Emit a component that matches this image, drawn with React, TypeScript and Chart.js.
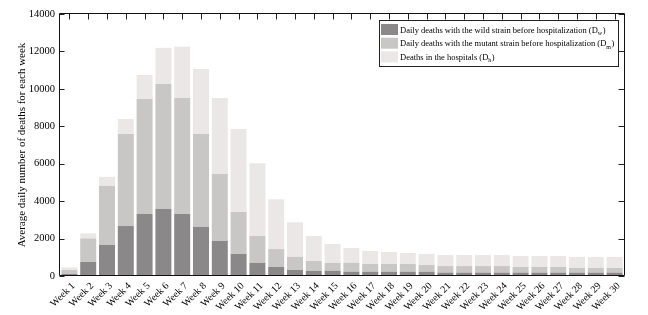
import { useEffect, useRef } from 'react';
import { Chart, registerables } from 'chart.js';

Chart.register(...registerables);

const weeks: string[] = Array.from({ length: 30 }, (_, i) => `Week ${i + 1}`);

// Segment sizes of each stacked bar (average daily deaths)
const wildDeaths: number[] = [110, 750, 1660, 2670, 3310, 3580, 3310, 2630, 1870, 1180, 700, 480, 320, 270, 280, 230, 230, 230, 230, 230, 180, 180, 180, 180, 180, 180, 180, 180, 180, 180];
const mutantDeaths: number[] = [210, 1260, 3160, 4920, 6150, 6680, 6200, 4960, 3580, 2240, 1440, 960, 700, 530, 420, 480, 410, 410, 410, 360, 350, 350, 350, 350, 300, 300, 300, 250, 250, 250];
const hospitalDeaths: number[] = [140, 270, 480, 800, 1280, 1930, 2740, 3470, 4060, 4430, 3880, 2660, 1850, 1340, 1010, 790, 700, 640, 590, 590, 590, 590, 590, 590, 590, 590, 590, 590, 590, 590];

const yTicks: number[] = [0, 2000, 4000, 6000, 8000, 10000, 12000, 14000];

const COLORS = ['#8a8889', '#c9c6c6', '#ebe7e7'];
const legendItems = [
  { text: 'Daily deaths with the wild strain before hospitalization (D', sub: 'w', color: COLORS[0] },
  { text: 'Daily deaths with the mutant strain before hospitalization (D', sub: 'm', color: COLORS[1] },
  { text: 'Deaths in the hospitals (D', sub: 'h', color: COLORS[2] },
];

const SERIF = '"Liberation Serif", "Times New Roman", serif';

const framePlugin = {
  id: 'frame',
  afterDatasetsDraw(chart: any) {
    const { ctx, chartArea, scales } = chart;
    const L = Math.round(chartArea.left) - 0.5;
    const R = Math.round(chartArea.right) + 0.5;
    const T = Math.round(chartArea.top) - 0.5;
    const B = Math.round(chartArea.bottom) - 0.5;
    ctx.save();
    ctx.lineWidth = 1;
    ctx.strokeStyle = '#222';
    ctx.beginPath();
    for (let i = 0; i < weeks.length; i++) {
      const x = Math.round(scales.x.getPixelForValue(i)) + 0.5;
      ctx.moveTo(x, T);
      ctx.lineTo(x, T + 6);
    }
    for (const v of yTicks) {
      const y = Math.round(scales.y.getPixelForValue(v)) + 0.5;
      ctx.moveTo(L, y);
      ctx.lineTo(L + 5, y);
      ctx.moveTo(R, y);
      ctx.lineTo(R - 6, y);
    }
    ctx.stroke();
    ctx.strokeStyle = '#111';
    ctx.beginPath();
    ctx.moveTo(L, T);
    ctx.lineTo(R, T);
    ctx.lineTo(R, B);
    ctx.lineTo(L, B);
    ctx.closePath();
    ctx.stroke();
    ctx.restore();
  },
  afterDraw(chart: any) {
    const { ctx, chartArea } = chart;
    const bw = 239, bh = 46;
    const bx = Math.round(chartArea.right) - 6 - bw + 0.5;
    const by = Math.round(chartArea.top) + 6 + 0.5;
    ctx.save();
    ctx.fillStyle = '#fff';
    ctx.fillRect(bx, by, bw, bh);
    ctx.strokeStyle = '#222';
    ctx.lineWidth = 1;
    ctx.strokeRect(bx, by, bw, bh);
    legendItems.forEach((it, i) => {
      const top = by + 3.5 + i * 13.7;
      ctx.fillStyle = it.color;
      ctx.fillRect(bx + 1.5, top, 17, 11);
      ctx.fillStyle = '#000';
      ctx.textBaseline = 'alphabetic';
      ctx.textAlign = 'left';
      ctx.font = `8.5px ${SERIF}`;
      const tx = bx + 20.5;
      const ty = top + 8.5;
      ctx.fillText(it.text, tx, ty);
      let w = ctx.measureText(it.text).width;
      ctx.font = `6px ${SERIF}`;
      ctx.fillText(it.sub, tx + w, ty + 2.5);
      w += ctx.measureText(it.sub).width + 0.5;
      ctx.font = `8.5px ${SERIF}`;
      ctx.fillText(')', tx + w, ty);
    });
    ctx.restore();
  },
};

export default function App() {
  const ref = useRef<HTMLCanvasElement | null>(null);
  useEffect(() => {
    if (!ref.current) return;
    Chart.defaults.font.family = SERIF;
    const chart = new Chart(ref.current, {
      type: 'bar',
      data: {
        labels: weeks,
        datasets: [
          { label: 'wild', data: wildDeaths, backgroundColor: COLORS[0] },
          { label: 'mutant', data: mutantDeaths, backgroundColor: COLORS[1] },
          { label: 'hospital', data: hospitalDeaths, backgroundColor: COLORS[2] },
        ],
      },
      options: {
        responsive: false,
        animation: false,
        devicePixelRatio: 1,
        layout: { padding: { top: 14, right: 24, left: 0, bottom: 0 } },
        datasets: { bar: { barPercentage: 0.85, categoryPercentage: 1 } },
        plugins: { legend: { display: false }, tooltip: { enabled: false } },
        scales: {
          x: {
            stacked: true,
            grid: { display: false, drawTicks: false },
            border: { display: false },
            ticks: { autoSkip: false, maxRotation: 45, minRotation: 45, color: '#000', font: { size: 10 }, padding: 4, labelOffset: 4 },
            afterFit: (s: any) => { s.height = 39; },
          },
          y: {
            stacked: true,
            min: 0,
            max: 14000,
            grid: { display: false, drawTicks: false },
            border: { display: false },
            ticks: { stepSize: 2000, color: '#000', font: { size: 10.5 }, padding: 5, callback: (v: any) => String(v) },
            title: {
              display: true,
              text: 'Average daily number of deaths for each week',
              color: '#000',
              font: { size: 11 },
              padding: { top: 16, bottom: 0 },
            },
            afterFit: (s: any) => { s.width = 60; },
          },
        },
      },
      plugins: [framePlugin],
    });
    return () => chart.destroy();
  }, []);
  return (
    <div style={{ position: 'absolute', left: 0, top: 0, width: 648, height: 315, background: '#fff' }}>
      <canvas ref={ref} width={648} height={315} />
    </div>
  );
}
